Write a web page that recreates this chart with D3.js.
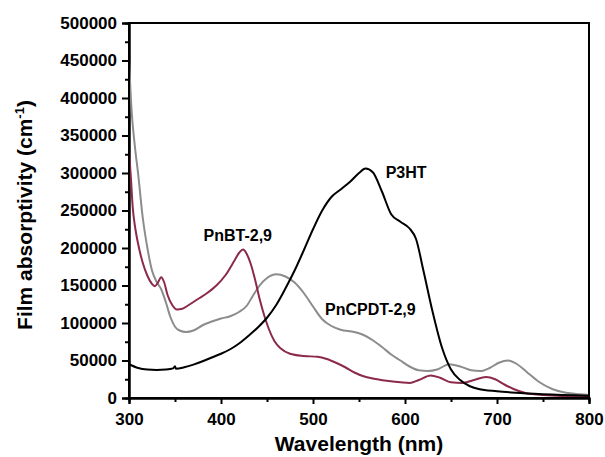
<!DOCTYPE html>
<html>
<head>
<meta charset="utf-8">
<script src="https://cdn.jsdelivr.net/npm/d3@7"></script>
<style>
  body { margin: 0; background: #fff; }
  text { font-family: "Liberation Sans", Arial, sans-serif; font-weight: bold; }
</style>
</head>
<body>
<div id="chart"></div>
<script>
// P3HT
var p3htNm = [300, 310, 320, 330, 340, 348, 350, 351, 360, 370, 380, 390, 400, 410, 420, 430, 440, 450, 460, 470, 480, 490, 500, 510, 520, 530, 540, 550, 557, 565, 575, 585, 595, 605, 612, 620, 630, 640, 650, 660, 670, 680, 700, 720, 750, 800];
var p3htVal = [45000, 40000, 38000, 37500, 38000, 39500, 42500, 39000, 41000, 44500, 49000, 54000, 59000, 65000, 73000, 83000, 94000, 107000, 124000, 146000, 170000, 197000, 225000, 250000, 268000, 278000, 288000, 300000, 306000, 301000, 275000, 245000, 235000, 226000, 212000, 170000, 115000, 68000, 38000, 24000, 16000, 12000, 9000, 7000, 5000, 3000];

// PnBT-2,9
var pnbtNm = [300, 302, 304, 307, 310, 315, 320, 325, 328, 331, 335, 338, 342, 347, 352, 358, 365, 375, 385, 395, 405, 415, 420, 424, 428, 432, 437, 442, 447, 452, 458, 465, 475, 490, 505, 515, 525, 535, 545, 555, 565, 580, 595, 605, 615, 628, 638, 650, 662, 675, 688, 698, 708, 718, 730, 750, 800];
var pnbtVal = [330000, 295000, 255000, 225000, 205000, 180000, 163000, 152000, 149000, 153000, 161000, 155000, 137000, 124000, 118000, 119000, 124000, 132000, 140000, 150000, 164000, 184000, 194000, 198000, 192000, 180000, 158000, 132000, 110000, 92000, 76000, 66000, 59000, 56000, 55000, 52000, 47000, 41000, 34000, 29000, 26000, 23000, 21000, 20000, 24000, 30000, 27000, 21000, 20000, 24000, 28000, 25000, 18000, 12000, 7000, 4000, 2000];

// PnCPDT-2,9
var pncpdtNm = [300, 303, 306, 310, 315, 320, 325, 330, 335, 340, 345, 350, 355, 362, 370, 380, 390, 400, 410, 420, 428, 435, 442, 450, 460, 470, 480, 490, 500, 510, 520, 530, 545, 555, 565, 575, 585, 595, 605, 615, 625, 635, 648, 660, 672, 682, 692, 702, 712, 722, 732, 745, 760, 775, 790, 800];
var pncpdtVal = [450000, 380000, 340000, 298000, 240000, 200000, 170000, 155000, 145000, 128000, 108000, 95000, 90000, 88000, 90000, 97000, 102000, 106000, 109000, 115000, 123000, 137000, 150000, 160000, 165000, 162000, 154000, 140000, 122000, 105000, 96000, 91000, 88000, 84000, 77000, 68000, 58000, 50000, 42000, 37000, 36000, 38000, 45000, 42000, 37000, 36000, 40000, 47000, 50000, 45000, 35000, 22000, 12000, 7000, 5000, 4000];

var xTicks = [300, 400, 500, 600, 700, 800];
var yTicks = [0, 50000, 100000, 150000, 200000, 250000, 300000, 350000, 400000, 450000, 500000];

var seriesNames = ["P3HT", "PnBT-2,9", "PnCPDT-2,9"];
var seriesColors = ["#000000", "#8b2a4c", "#8c8c8c"];

var margin = {top: 23, right: 16, bottom: 59, left: 129},
  width = 605 - margin.left - margin.right,
  height = 457 - margin.top - margin.bottom;

var x = d3.scaleLinear().domain([300, 800]).range([0, width]);
var y = d3.scaleLinear().domain([0, 500000]).range([height, 0]);

var svg = d3.select("#chart")
  .append("svg")
  .attr("width", 605)
  .attr("height", 457)
  .append("g")
  .attr("transform", "translate(" + margin.left + "," + margin.top + ")");

// minor ticks
svg.append("g")
  .attr("transform", "translate(0," + height + ")")
  .call(d3.axisBottom(x).tickValues(d3.range(350, 800, 100)).tickSize(4).tickFormat(""));
svg.append("g")
  .call(d3.axisLeft(y).tickValues(d3.range(25000, 500000, 50000)).tickSize(4).tickFormat(""));

svg.append("g")
  .attr("transform", "translate(0," + height + ")")
  .call(d3.axisBottom(x).tickValues(xTicks).tickSize(6).tickPadding(9).tickFormat(d3.format("d")));

svg.append("g")
  .call(d3.axisLeft(y).tickValues(yTicks).tickSize(7).tickPadding(5).tickFormat(d3.format("d")));

svg.selectAll(".tick line").attr("stroke", "#000").attr("stroke-width", 2);
svg.selectAll(".domain").attr("stroke", "#000").attr("stroke-width", 2);
svg.selectAll(".tick text").attr("font-size", 17).attr("fill", "#000")
  .style("font-family", "'Liberation Sans', Arial, sans-serif").style("font-weight", "bold");

var line = d3.line()
  .x(function(d) { return x(d[0]); })
  .y(function(d) { return y(d[1]); })
  .curve(d3.curveMonotoneX);

var allNm = [p3htNm, pnbtNm, pncpdtNm];
var allVal = [p3htVal, pnbtVal, pncpdtVal];

// gray first, then maroon, black on top
[2, 1, 0].forEach(function(i) {
  var pts = allNm[i].map(function(n, j) { return [n, allVal[i][j]]; });
  svg.append("path")
    .datum(pts)
    .attr("fill", "none")
    .attr("stroke", seriesColors[i])
    .attr("stroke-width", 2)
    .attr("d", line);
});

// frame
svg.append("rect")
  .attr("width", width)
  .attr("height", height)
  .attr("fill", "none")
  .attr("stroke", "#000")
  .attr("stroke-width", 2);

// labels on curves
var labelPos = [[579, 293000], [381, 210000], [513, 111000]];
seriesNames.forEach(function(n, i) {
  svg.append("text")
    .attr("x", x(labelPos[i][0]))
    .attr("y", y(labelPos[i][1]))
    .attr("font-size", 16)
    .attr("fill", "#000")
    .text(n);
});

// axis titles
svg.append("text")
  .attr("x", width / 2)
  .attr("y", height + 53)
  .attr("text-anchor", "middle")
  .attr("font-size", 21)
  .attr("fill", "#000")
  .text("Wavelength (nm)");

var yt = svg.append("text")
  .attr("transform", "translate(-97," + (215 - margin.top) + ") rotate(-90)")
  .attr("text-anchor", "middle")
  .attr("font-size", 21)
  .attr("fill", "#000");
yt.append("tspan").text("Film absorptivity (cm");
yt.append("tspan").attr("font-size", 13).attr("dy", -8).text("-1");
yt.append("tspan").attr("dy", 8).text(")");
</script>
</body>
</html>
